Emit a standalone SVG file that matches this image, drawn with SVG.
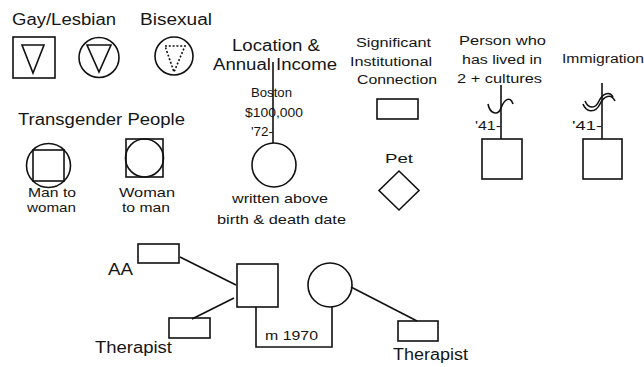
<svg xmlns="http://www.w3.org/2000/svg" width="644" height="367" viewBox="0 0 644 367">
<style>
.s{fill:none;stroke:#111;stroke-width:1.6}
.t{font-family:"Liberation Sans",Arial,sans-serif;fill:#151515}
.L{font-size:16px}
.M{font-size:13px}
.S{font-size:12.5px}
</style>
<rect width="644" height="367" fill="#fff"/>
<g id="gay">
<text class="t L" x="12" y="25" textLength="104" lengthAdjust="spacingAndGlyphs">Gay/Lesbian</text>
<rect class="s" x="13" y="37" width="42" height="41"/>
<path class="s" d="M22,45 H44 L33,73 Z"/>
</g>
<g id="lesbian">
<circle class="s" cx="99" cy="57.5" r="20"/>
<path class="s" d="M87,45 H111 L99,72 Z"/>
</g>
<g id="bisexual">
<text class="t L" x="140" y="25" textLength="72" lengthAdjust="spacingAndGlyphs">Bisexual</text>
<circle class="s" cx="174" cy="56" r="19"/>
<path class="s" d="M165,46 H185 L174,72 Z" stroke-dasharray="2,1.8" stroke-width="2"/>
</g>
<g id="location">
<text class="t L" x="232" y="51" textLength="88" lengthAdjust="spacingAndGlyphs">Location &amp;</text>
<text class="t L" x="213" y="70" textLength="124" lengthAdjust="spacingAndGlyphs">Annual Income</text>
<text class="t M" x="251" y="97" textLength="41" lengthAdjust="spacingAndGlyphs">Boston</text>
<text class="t M" x="245" y="117" textLength="58" lengthAdjust="spacingAndGlyphs">$100,000</text>
<text class="t M" x="251" y="136" textLength="22" lengthAdjust="spacingAndGlyphs">'72-</text>
<circle class="s" cx="274" cy="165" r="22"/>
<text class="t M" x="232" y="203" textLength="96" lengthAdjust="spacingAndGlyphs">written above</text>
<text class="t M" x="217" y="224" textLength="129" lengthAdjust="spacingAndGlyphs">birth &amp; death date</text>
</g>
<g id="institution">
<text class="t S" x="356" y="47" textLength="75" lengthAdjust="spacingAndGlyphs">Significant</text>
<text class="t S" x="350" y="66" textLength="82" lengthAdjust="spacingAndGlyphs">Institutional</text>
<text class="t S" x="357" y="84" textLength="80" lengthAdjust="spacingAndGlyphs">Connection</text>
<rect class="s" x="377" y="99" width="41" height="20"/>
</g>
<g id="pet">
<text class="t M" x="385" y="163" textLength="28" lengthAdjust="spacingAndGlyphs">Pet</text>
<path class="s" d="M399,171 L419,190.5 L399,210 L379,190.5 Z"/>
</g>
<g id="cultures">
<text class="t S" x="459" y="45" textLength="87" lengthAdjust="spacingAndGlyphs">Person who</text>
<text class="t S" x="462" y="64" textLength="80" lengthAdjust="spacingAndGlyphs">has lived in</text>
<text class="t S" x="457" y="83" textLength="85" lengthAdjust="spacingAndGlyphs">2 + cultures</text>
<text class="t S" x="475" y="130" textLength="26" lengthAdjust="spacingAndGlyphs">'41-</text>
<rect class="s" x="482" y="139" width="40" height="40"/>
</g>
<g id="immigration">
<text class="t S" x="562" y="63" textLength="82" lengthAdjust="spacingAndGlyphs">Immigration</text>
<text class="t S" x="572" y="130" textLength="30" lengthAdjust="spacingAndGlyphs">'41-</text>
<rect class="s" x="583" y="139" width="39" height="40"/>
</g>
<g id="transgender">
<text class="t L" x="18" y="125" textLength="167" lengthAdjust="spacingAndGlyphs">Transgender People</text>
</g>
<g id="man-to-woman">
<circle class="s" cx="48.5" cy="165.5" r="22"/>
<rect class="s" x="33" y="150" width="31" height="31"/>
<text class="t M" x="28" y="197" textLength="48" lengthAdjust="spacingAndGlyphs">Man to</text>
<text class="t M" x="27" y="212" textLength="49" lengthAdjust="spacingAndGlyphs">woman</text>
</g>
<g id="woman-to-man">
<rect class="s" x="126" y="139" width="37" height="38"/>
<circle class="s" cx="144.5" cy="158" r="19"/>
<text class="t M" x="119" y="197" textLength="56" lengthAdjust="spacingAndGlyphs">Woman</text>
<text class="t M" x="122" y="212" textLength="48" lengthAdjust="spacingAndGlyphs">to man</text>
</g>
<g id="aa">
<rect class="s" x="138" y="244" width="41" height="19"/>
<text class="t L" x="108" y="275" textLength="25" lengthAdjust="spacingAndGlyphs">AA</text>
</g>
<g id="therapist-left">
<rect class="s" x="169" y="318" width="41" height="20"/>
<text class="t L" x="95" y="353" textLength="77" lengthAdjust="spacingAndGlyphs">Therapist</text>
</g>
<g id="husband">
<rect class="s" x="237" y="264" width="41" height="43"/>
</g>
<g id="wife">
<circle class="s" cx="330" cy="285" r="22"/>
</g>
<g id="therapist-right">
<rect class="s" x="398" y="321" width="40" height="20"/>
<text class="t L" x="393" y="360" textLength="75" lengthAdjust="spacingAndGlyphs">Therapist</text>
</g>
<g id="connectors">
<line class="s" x1="273" y1="62" x2="273" y2="143"/>
<line class="s" x1="501" y1="85" x2="501" y2="139"/>
<path class="s" d="M488,104 C490,114 498,116 501,108 C504,100 510,95 513,104" stroke-width="1.3"/>
<line class="s" x1="602" y1="83" x2="602" y2="139"/>
<path class="s" d="M583,104 C586,112 595,114 600,104 C604,96 611,93 615,101" stroke-width="1.2"/>
<path class="s" d="M585,101 C588,108 595,110 599,101 C603,93 610,91 613,97" stroke-width="1.2"/>
<line class="s" x1="180" y1="257" x2="236" y2="285"/>
<line class="s" x1="192" y1="319" x2="234" y2="298"/>
<line class="s" x1="351" y1="287" x2="417" y2="321"/>
<path class="s" d="M256,307 V347 H332 V307"/>
<text class="t S" x="265" y="340" textLength="53" lengthAdjust="spacingAndGlyphs">m 1970</text>
</g>
</svg>
